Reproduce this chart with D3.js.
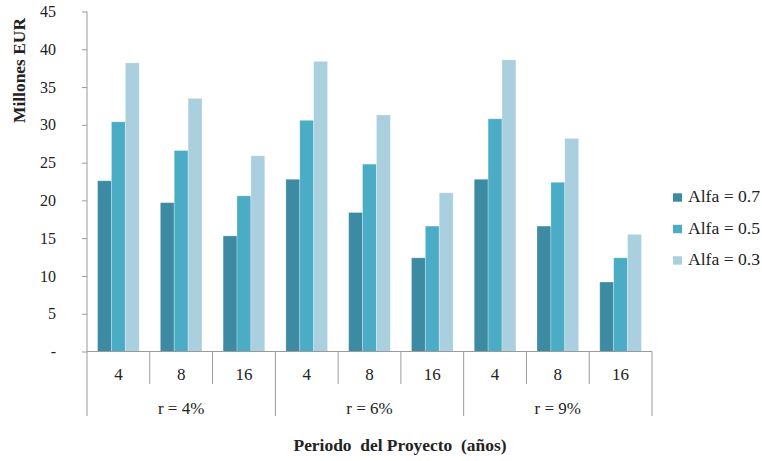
<!DOCTYPE html>
<html><head><meta charset="utf-8">
<script src="https://cdn.jsdelivr.net/npm/d3@7"></script>
<style>body{margin:0;background:#fff}svg{display:block}</style>
</head><body><svg id="c" width="762" height="461"></svg>
<script>
const groups = ["r = 4%", "r = 6%", "r = 9%"];
const periods = ["4", "8", "16"];
const series = ["Alfa = 0.7", "Alfa = 0.5", "Alfa = 0.3"];
const alfa07 = [22.6, 19.7, 15.3, 22.8, 18.4, 12.4, 22.8, 16.6, 9.2];
const alfa05 = [30.4, 26.6, 20.6, 30.6, 24.8, 16.6, 30.8, 22.4, 12.4];
const alfa03 = [38.2, 33.5, 25.9, 38.4, 31.3, 21.0, 38.6, 28.2, 15.5];
const yTicks = [0, 5, 10, 15, 20, 25, 30, 35, 40, 45];
const colors = ["#3C8BA3", "#4BACC6", "#AACFDE"];
const yTitle = "Millones EUR";
const xTitle = "Periodo  del Proyecto  (años)";

const FONT = "'Liberation Serif', 'Times New Roman', Times, serif";
const values = [alfa07, alfa05, alfa03];
const cats = [];
groups.forEach((g, gi) => periods.forEach((p, pi) => cats.push({g, p, key: gi + "-" + pi})));

const svg = d3.select("#c");
const L = 87, R = 652, T = 11.5, B = 351.5;
const y = d3.scaleLinear().domain([0, 45]).range([B, T]);
const x0 = d3.scaleBand().domain(cats.map(d => d.key)).range([L, R]).padding(0);
const x1 = d3.scaleBand().domain(series).range([0, x0.bandwidth()]).paddingInner(0).paddingOuter(0.76);
const gx = d3.scaleBand().domain(groups).range([L, R]).padding(0);
const axisColor = "#9a9a9a";

function txt(sel) { return sel.style("font-family", FONT).style("fill", "#222"); }

// bars
cats.forEach((c, ci) => {
  series.forEach((s, si) => {
    svg.append("rect")
      .attr("x", x0(c.key) + x1(s))
      .attr("y", y(values[si][ci]))
      .attr("width", x1.bandwidth())
      .attr("height", B - y(values[si][ci]))
      .attr("fill", colors[si])
      .attr("stroke", "#ffffff").attr("stroke-opacity", 0.35).attr("stroke-width", 0.8);
  });
});

// y axis
const ya = svg.append("g").attr("transform", `translate(${L},0)`)
  .call(d3.axisLeft(y).tickValues(yTicks).tickSize(5).tickPadding(26)
    .tickFormat(d => d === 0 ? "-" : d));
ya.select(".domain").remove();
ya.selectAll(".tick line").attr("stroke", axisColor);
txt(ya.selectAll(".tick text")).style("font-size", "16px");
svg.append("line").attr("x1", L).attr("x2", L).attr("y1", T).attr("y2", 416).attr("stroke", axisColor);

// x axis base
svg.append("line").attr("x1", L).attr("x2", R).attr("y1", B).attr("y2", B).attr("stroke", axisColor);
cats.forEach((c, i) => {
  if (i > 0 && i % 3 !== 0) {
    const xx = x0(c.key);
    svg.append("line").attr("x1", xx).attr("x2", xx).attr("y1", B).attr("y2", 384).attr("stroke", axisColor);
  }
  txt(svg.append("text").attr("x", x0(c.key) + x0.bandwidth() / 2).attr("y", 379.5)
    .attr("text-anchor", "middle")).style("font-size", "17px").text(c.p);
});
groups.forEach((g, i) => {
  if (i > 0) {
    svg.append("line").attr("x1", gx(g)).attr("x2", gx(g)).attr("y1", B).attr("y2", 416).attr("stroke", axisColor);
  }
  txt(svg.append("text").attr("x", gx(g) + gx.bandwidth() / 2).attr("y", 413.5)
    .attr("text-anchor", "middle")).style("font-size", "17px").text(g);
});
svg.append("line").attr("x1", R).attr("x2", R).attr("y1", B).attr("y2", 416).attr("stroke", axisColor);

// titles
txt(svg.append("text").attr("x", 400).attr("y", 451).attr("text-anchor", "middle")
  .attr("textLength", 213).attr("lengthAdjust", "spacingAndGlyphs"))
  .style("font-size", "16px").style("font-weight", "bold").style("white-space", "pre").text(xTitle);
txt(svg.append("text").attr("transform", "translate(25,70.5) rotate(-90)").attr("text-anchor", "middle")
  .attr("textLength", 105).attr("lengthAdjust", "spacingAndGlyphs"))
  .style("font-size", "16px").style("font-weight", "bold").text(yTitle);

// legend
const ly = d3.scalePoint().domain(series).range([197.5, 260.5]);
series.forEach((s, i) => {
  svg.append("rect").attr("x", 673).attr("y", ly(s) - 4.2).attr("width", 9).attr("height", 8.4).attr("fill", colors[i]);
  txt(svg.append("text").attr("x", 688).attr("y", ly(s) + 4.5)
    .attr("textLength", 72).attr("lengthAdjust", "spacingAndGlyphs")).style("font-size", "16px").text(s);
});
</script></body></html>
